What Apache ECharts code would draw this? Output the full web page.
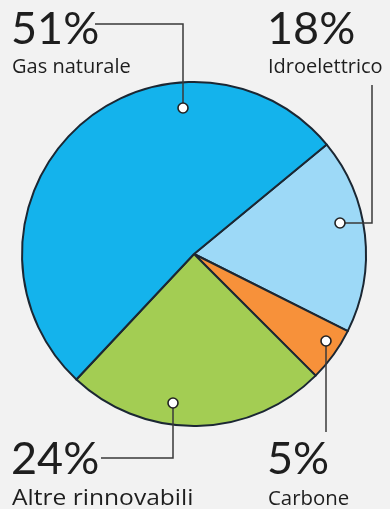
<!DOCTYPE html>
<html><head><meta charset="utf-8">
<script src="https://cdn.jsdelivr.net/npm/echarts@6/dist/echarts.min.js"></script>
<style>html,body{margin:0;padding:0;background:#f2f2f2}#c{width:390px;height:509px}</style>
</head><body><div id="c"></div>
<script>
const categories = ['Idroelettrico', 'Carbone', 'Altre rinnovabili', 'Gas naturale'];
const values = [18, 5, 24, 51];
const colors = ['#9dd9f7', '#f7913a', '#a3cd53', '#14b3ec'];

const chart = echarts.init(document.getElementById('c'));
const bigFont = 'Lato, "Open Sans", sans-serif';
const smallFont = '"Open Sans", Lato, sans-serif';
const ink = '#1e1e1e';
const lineC = '#3a3a3a';

// label annotation layout (pct text, name text, leader polyline, dot)
const ann = {
  'Gas naturale':      {px: 11, py: 29, ny: 67, ns: 20, sx: 1, pts: [[95,24],[183,24],[183,108]]},
  'Idroelettrico':     {px: 267, py: 29, ny: 67, ns: 20, sx: 1, pts: [[372,85],[372,223],[340,223]]},
  'Carbone':           {px: 267, py: 459, ny: 499, ns: 20, sx: 1.02, pts: [[326,432],[326,341]]},
  'Altre rinnovabili': {px: 11, py: 459, ny: 499, ns: 21, sx: 1.17, pts: [[101,458],[173,458],[173,403]]}
};

const graphic = [];
categories.forEach((name, i) => {
  const a = ann[name];
  graphic.push({type: 'polyline', shape: {points: a.pts}, style: {stroke: lineC, lineWidth: 1.5, fill: null}, z: 10});
  const d = a.pts[a.pts.length - 1];
  graphic.push({type: 'circle', shape: {cx: d[0], cy: d[1], r: 5}, style: {fill: '#fff', stroke: '#222', lineWidth: 1.6}, z: 11});
  graphic.push({type: 'text', x: a.px, y: a.py, style: {text: values[i] + '%', font: '400 45px ' + bigFont, fill: ink, textAlign: 'left', textVerticalAlign: 'middle'}, z: 10});
  graphic.push({type: 'text', x: a.px + 1, y: a.ny, scaleX: a.sx, style: {text: name, font: '400 ' + a.ns + 'px ' + smallFont, fill: ink, textAlign: 'left', textVerticalAlign: 'middle'}, z: 10});
});

chart.setOption({
  backgroundColor: '#f2f2f2',
  animation: false,
  series: [{
    type: 'pie',
    center: [194, 254],
    radius: [0, 172],
    startAngle: 39.5,
    clockwise: true,
    label: {show: false},
    labelLine: {show: false},
    itemStyle: {borderColor: '#1b2733', borderWidth: 2},
    emphasis: {disabled: true},
    data: categories.map((c, i) => ({name: c, value: values[i], itemStyle: {color: colors[i]}}))
  }],
  graphic: graphic
});
</script></body></html>
